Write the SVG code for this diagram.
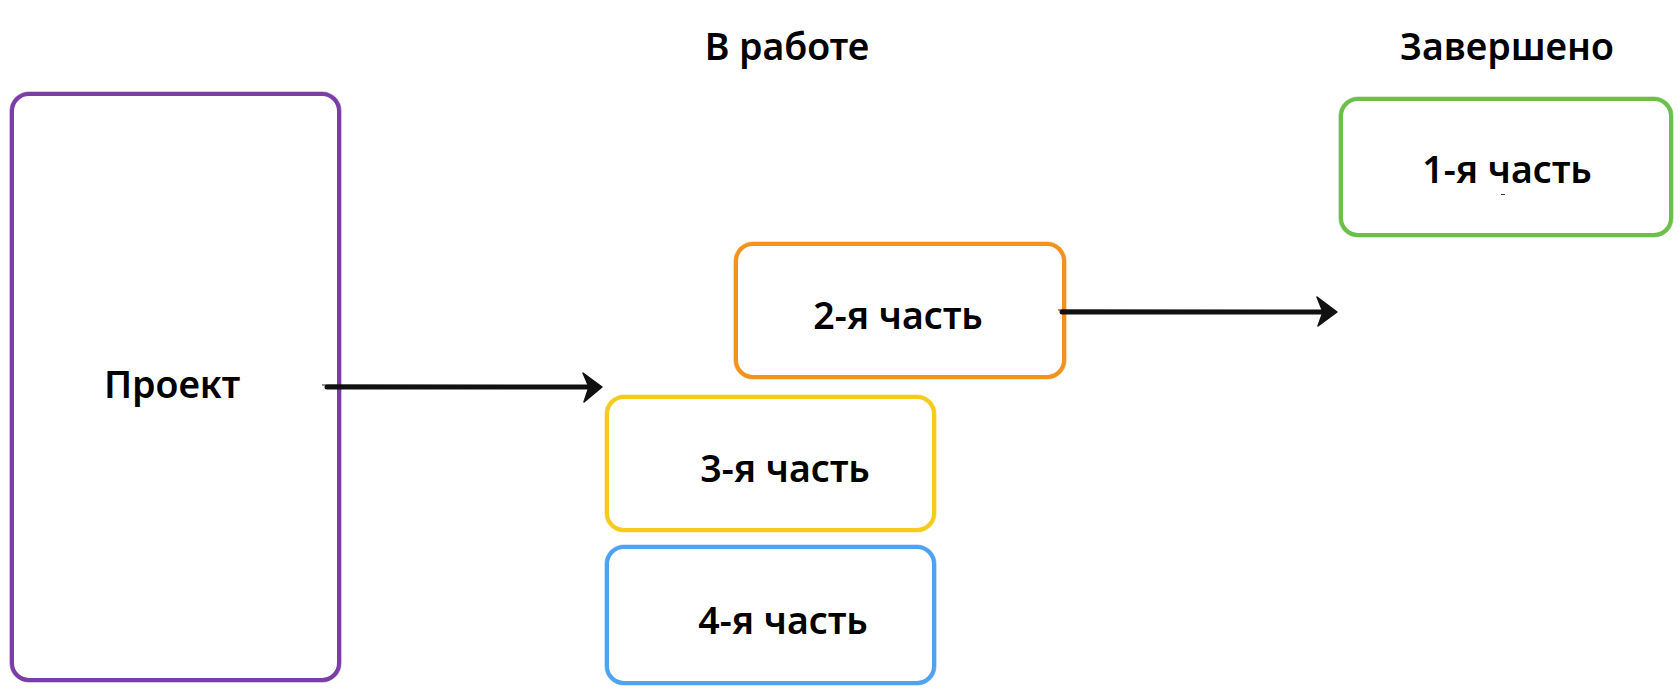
<svg xmlns="http://www.w3.org/2000/svg" width="1680" height="698" viewBox="0 0 1680 698">
<style>
  .box { fill: #ffffff; stroke-width: 4; stroke-linejoin: round; }
  .box2 { fill: none; stroke-width: 1.2; opacity: 0.55; }
  .lbl { font-family: "Noto Sans", "Open Sans", "Liberation Sans", sans-serif; font-weight: 600; font-size: 37.5px; fill: #000; text-anchor: middle; }
  .conn { stroke: #111; stroke-width: 5; fill: none; stroke-linecap: round; }
  .conn2 { stroke: #111; stroke-width: 1.5; fill: none; opacity: 0.6; }
  .head { fill: #111; stroke: #111; stroke-width: 1.5; stroke-linejoin: round; }
</style>
<rect width="1680" height="698" fill="#ffffff"/>

<g id="header-in-progress"><text class="lbl" x="787" y="60">В работе</text></g>
<g id="header-done"><text class="lbl" x="1507" y="60">Завершено</text></g>

<g id="node-project">
  <rect class="box" x="12" y="94" width="327" height="586" rx="17" stroke="#7A3EA6"/>
  <rect class="box2" x="10" y="92" width="331" height="590" rx="19" stroke="#7A3EA6"/>
  <text class="lbl" x="172" y="398">Проект</text>
</g>

<g id="node-part2">
  <rect class="box" x="736" y="244" width="328" height="133" rx="17" stroke="#F2921F"/>
  <rect class="box2" x="734" y="242" width="332" height="137" rx="19" stroke="#F2921F"/>
  <text class="lbl" x="898" y="329">2-я часть</text>
</g>

<g id="node-part3">
  <rect class="box" x="607" y="397" width="327" height="133" rx="17" stroke="#F5CB1E"/>
  <rect class="box2" x="605" y="395" width="331" height="137" rx="19" stroke="#F5CB1E"/>
  <text class="lbl" x="785" y="482">3-я часть</text>
</g>

<g id="node-part4">
  <rect class="box" x="607" y="547" width="327" height="136" rx="17" stroke="#4FA3EE"/>
  <rect class="box2" x="605" y="545" width="331" height="140" rx="19" stroke="#4FA3EE"/>
  <text class="lbl" x="783" y="634">4-я часть</text>
</g>

<g id="node-part1">
  <rect class="box" x="1341" y="99" width="330" height="136" rx="17" stroke="#6CC04A"/>
  <rect class="box2" x="1339" y="97" width="334" height="140" rx="19" stroke="#6CC04A"/>
  <text class="lbl" x="1507" y="183">1-я часть</text>
  <line x1="1501" y1="194.5" x2="1505" y2="194.5" stroke="#333" stroke-width="1"/>
</g>

<g id="connectors">
  <line class="conn" x1="327" y1="387" x2="592" y2="387"/>
  <line class="conn2" x1="322" y1="385" x2="596" y2="386"/>
  <polygon class="head" points="583,373 602,387 584,402 589,387"/>
  <line class="conn" x1="1062" y1="312" x2="1326" y2="312"/>
  <line class="conn2" x1="1058" y1="310" x2="1330" y2="311"/>
  <polygon class="head" points="1317,297 1337,312 1318,326 1323,312"/>
</g>
</svg>
